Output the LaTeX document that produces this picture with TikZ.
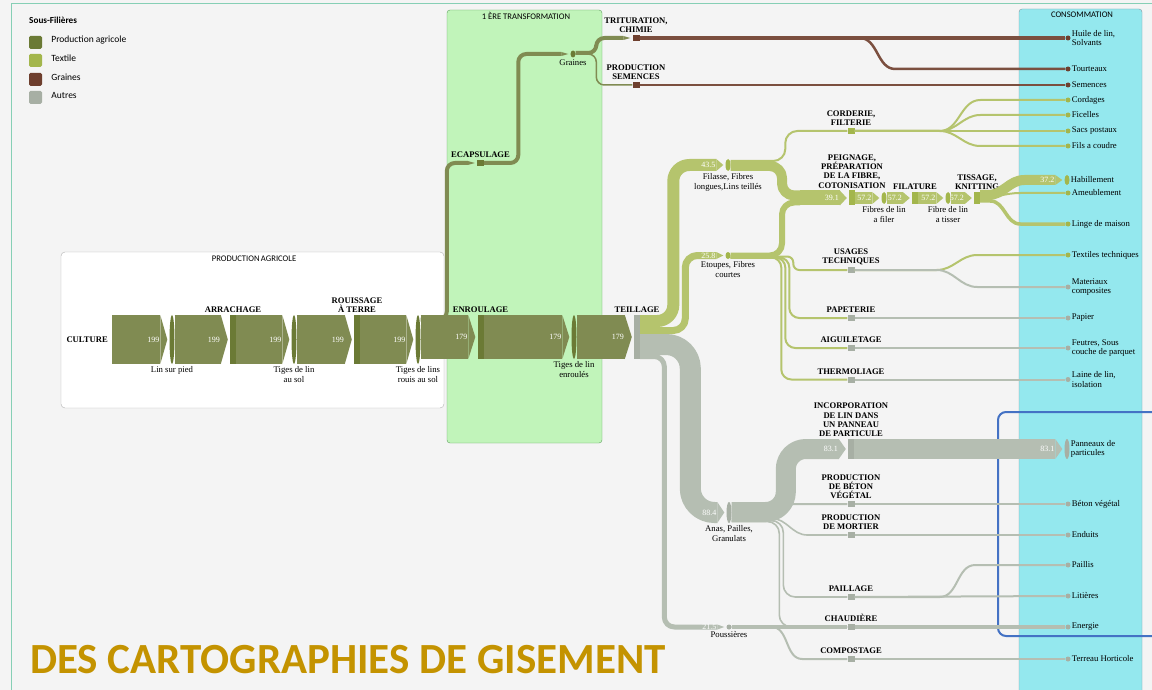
\documentclass[tikz,border=0pt]{standalone}
\usepackage{fontspec}
\setmainfont{Liberation Serif}
\newfontfamily\carlito{Carlito}
\usepackage{tikz}
\usetikzlibrary{arrows.meta,positioning,shapes.geometric}

\definecolor{bgcol}{HTML}{F4F4F4}
\definecolor{framecol}{HTML}{86CFB5}
\definecolor{pcol}{HTML}{808B52}
\definecolor{pbar}{HTML}{6B7A35}
\definecolor{tcol}{HTML}{B5C46D}
\definecolor{tbar}{HTML}{A3B64C}
\definecolor{gcol}{HTML}{7B4F3F}
\definecolor{gbar}{HTML}{6E3F2E}
\definecolor{acol}{HTML}{B5BEB2}
\definecolor{abar}{HTML}{A7AFA4}
\definecolor{vertbox}{HTML}{C1F4BA}
\definecolor{cyanbox}{HTML}{94E8EE}
\definecolor{titlecol}{HTML}{C49300}
\definecolor{bluebox}{HTML}{4472C4}

\newcommand\stagefont{\bfseries\fontsize{8.6}{9.2}\selectfont}
\newcommand\lblfont{\fontsize{8.7}{9.6}\selectfont}
\newcommand\valfont{\fontsize{8}{9}\selectfont}

\tikzset{
  flow/.style={line cap=butt, line join=round},
  chev/.style={-{Triangle[length=7pt,width=0pt 1,line width=0pt]}, shorten >=2pt},
  val/.style={font=\valfont, text=white, anchor=east, xshift=-10pt, inner sep=0pt, outer sep=0pt},
  lens/.style={ellipse, minimum width=5pt, minimum height=#1, inner sep=0pt},
  bar/.style={rectangle, minimum width=6pt, minimum height=#1, inner sep=0pt},
  sq/.style={rectangle, minimum width=7pt, minimum height=6pt, inner sep=0pt},
  cdot/.style={circle, minimum size=5pt, inner sep=0pt},
  stage/.style={font=\stagefont, align=center, inner sep=1pt},
  lbl/.style={font=\lblfont, align=center, inner sep=1pt},
  cons/.style={font=\lblfont, align=left, inner sep=0pt},
  boxtitle/.style={font=\carlito\fontsize{8.6}{9}\selectfont, inner sep=0pt},
  legsq/.style={rectangle, rounded corners=1.5pt, minimum size=13pt, inner sep=0pt},
  legtxt/.style={font=\carlito\fontsize{9.5}{10}\selectfont, anchor=west, inner sep=0pt},
}

\begin{document}
\begin{tikzpicture}[x=1pt, y=-1pt]
\useasboundingbox (0,0) rectangle (1152,690);
\fill[bgcol] (0,0) rectangle (1152,690);
\draw[framecol, line width=1.8pt] (11.5,695) -- (11.5,3.5) -- (1160,3.5);

% legende
\node[legtxt, font=\carlito\bfseries\fontsize{9.2}{10}\selectfont] (leg) at (29,20) {Sous-Filières};
\node[legsq, fill=pbar] (lg1) at (35.5,42.5) {};
\node[legsq, fill=tbar] (lg2) at (35.5,60.5) {};
\node[legsq, fill=gbar] (lg3) at (35.5,79.5) {};
\node[legsq, fill=abar] (lg4) at (35.5,97.5) {};
\node[legtxt, right=9pt of lg1, yshift=2pt] (lg1-t) {Production agricole};
\node[legtxt, right=9pt of lg2, yshift=2pt] (lg2-t) {Textile};
\node[legtxt, right=9pt of lg3, yshift=2pt] (lg3-t) {Graines};
\node[legtxt, right=9pt of lg4, yshift=2pt] (lg4-t) {Autres};

% cadres
\draw[gray!60, fill=white, rounded corners=4pt] (61,252) rectangle (444,408);
\draw[green!25!gray, fill=vertbox, rounded corners=3pt] (447,10) rectangle (602,443);
\draw[cyan!20!gray, fill=cyanbox, rounded corners=3pt] (1019,9) rectangle (1142,700);
\draw[bluebox, line width=2pt, rounded corners=8pt] (998,412) rectangle (1180,636);
\node[boxtitle] (t-prod) at (254,259) {PRODUCTION\,AGRICOLE};
\node[boxtitle] (t-trans) at (526,16) {1 ÈRE TRANSFORMATION};
\node[boxtitle] (t-conso) at (1082,15) {CONSOMMATION};

% production agricole
\coordinate (cin) at (112,339.5);
\node[stage, left=3pt of cin] (cult) {CULTURE};
\node[lens=49pt, fill=pbar] (lsp) at (172,339.5) {};
\node[lbl, below=1pt of lsp] (lsp-t) {Lin sur pied};
\node[bar=49pt, fill=pbar] (arr) at (233,339.5) {};
\node[stage, above=1pt of arr] (arr-t) {ARRACHAGE};
\node[lens=49pt, fill=pbar] (tls) at (294,339.5) {};
\node[lbl, below=1pt of tls] (tls-t) {Tiges de lin\\au sol};
\node[bar=49pt, fill=pbar] (rou) at (357,339.5) {};
\node[stage, above=1pt of rou] (rou-t) {ROUISSAGE\\À TERRE};
\node[lens=49pt, fill=pbar] (trs) at (418,339.5) {};
\node[lbl, below=1pt of trs] (trs-t) {Tiges de lins\\rouis au sol};
\node[bar=44pt, fill=pbar] (enr) at (480.5,337) {};
\node[stage, above=1pt of enr] (enr-t) {ENROULAGE};
\node[lens=44pt, fill=pbar] (tle) at (574,337) {};
\node[lbl, below=1pt of tle] (tle-t) {Tiges de lin\\enroulés};
\node[bar=44pt, fill=abar] (teil) at (637,337) {};
\node[stage, above=1pt of teil] (teil-t) {TEILLAGE};

% graines
\node[sq, fill=pbar] (ecap) at (480.5,163) {};
\node[stage, above=1pt of ecap] (ecap-t) {ECAPSULAGE};
\node[lens=7pt, fill=pbar] (gra) at (573,54) {};
\node[lbl, below=1pt of gra] (gra-t) {Graines};
\node[sq, fill=gbar] (trit) at (636,38) {};
\node[stage, above=1pt of trit] (trit-t) {TRITURATION,\\CHIMIE};
\node[sq, fill=gbar] (sem) at (636,85) {};
\node[stage, above=1pt of sem] (sem-t) {PRODUCTION\\SEMENCES};

% textile
\node[lens=12pt, fill=tbar] (fil) at (728,165) {};
\node[lbl, below=1pt of fil] (fil-t) {Filasse, Fibres\\longues,Lins teillés};
\node[lens=7pt, fill=tbar] (eto) at (728,255.5) {};
\node[lbl, below=1pt of eto] (eto-t) {Etoupes, Fibres\\courtes};
\coordinate (pj) at (800,198);
\node[sq, fill=tbar] (cord) at (851,131) {};
\node[stage, above=1pt of cord] (cord-t) {CORDERIE,\\FILTERIE};
\node[bar=15pt, fill=tbar] (peig) at (852,198) {};
\node[stage, above=1pt of peig] (peig-t) {PEIGNAGE,\\PRÉPARATION\\DE LA FIBRE,\\COTONISATION};
\node[lens=12pt, fill=tbar] (ff) at (884,198) {};
\node[lbl, below=1pt of ff] (ff-t) {Fibres de lin\\a filer};
\node[bar=12pt, fill=tbar] (fila) at (915,198) {};
\node[stage, above=1pt of fila] (fila-t) {FILATURE};
\node[lens=12pt, fill=tbar] (ft) at (948,198) {};
\node[lbl, below=1pt of ft] (ft-t) {Fibre de lin\\a tisser};
\node[bar=12pt, fill=tbar] (tiss) at (977,198) {};
\node[stage, above=1pt of tiss] (tiss-t) {TISSAGE,\\KNITTING};
\node[sq, fill=abar] (usa) at (851,270) {};
\node[stage, above=1pt of usa] (usa-t) {USAGES\\TECHNIQUES};
\node[sq, fill=abar] (pap) at (851,318) {};
\node[stage, above=1pt of pap] (pap-t) {PAPETERIE};
\node[sq, fill=abar] (aig) at (851,348) {};
\node[stage, above=1pt of aig] (aig-t) {AIGUILETAGE};
\node[sq, fill=abar] (ther) at (851,379.5) {};
\node[stage, above=1pt of ther] (ther-t) {THERMOLIAGE};

% autres
\node[lens=21pt, fill=abar] (anas) at (729,512.5) {};
\node[lbl, below=1pt of anas] (anas-t) {Anas, Pailles,\\Granulats};
\node[lens=5pt, fill=abar] (pous) at (729,627) {};
\node[lbl, below=1pt of pous] (pous-t) {Poussières};
\node[bar=20pt, fill=abar] (inc) at (851,449) {};
\node[stage, above=1pt of inc] (inc-t) {INCORPORATION\\DE LIN DANS\\UN PANNEAU\\DE PARTICULE};
\node[sq, fill=abar] (bet) at (851,504) {};
\node[stage, above=1pt of bet] (bet-t) {PRODUCTION\\DE BÉTON\\VÉGÉTAL};
\node[sq, fill=abar] (mor) at (851,535) {};
\node[stage, above=1pt of mor] (mor-t) {PRODUCTION\\DE MORTIER};
\node[sq, fill=abar] (pail) at (851,597) {};
\node[stage, above=1pt of pail] (pail-t) {PAILLAGE};
\node[sq, fill=abar] (chau) at (851,627) {};
\node[stage, above=1pt of chau] (chau-t) {CHAUDIÈRE};
\node[sq, fill=abar] (comp) at (851,659) {};
\node[stage, above=1pt of comp] (comp-t) {COMPOSTAGE};

% consommation
\foreach \n/\y/\c in {huile/38/gbar, tour/69/gbar, semen/85/gbar, cordg/100/tbar, fic/115/tbar,
  sacs/131/tbar, fils/146/tbar, ame/193/tbar, linm/224/tbar, ttech/255/tbar, mat/287/abar,
  papier/318/abar, feut/348/abar, laine/379.5/abar, beton/504/abar, endu/535/abar,
  paillis/565/abar, lit/596/abar, ener/627/abar, terr/659/abar}
  \node[cdot, fill=\c] (\n) at (1068,\y) {};
\node[lens=10pt, fill=tbar] (hab) at (1067,180) {};
\node[lens=20pt, fill=abar] (pan) at (1067,449) {};
\node[cons, right=1pt of huile] (huile-t) {Huile de lin,\\Solvants};
\node[cons, right=1pt of tour] (tour-t) {Tourteaux};
\node[cons, right=1pt of semen] (semen-t) {Semences};
\node[cons, right=1pt of cordg] (cordg-t) {Cordages};
\node[cons, right=1pt of fic] (fic-t) {Ficelles};
\node[cons, right=1pt of sacs] (sacs-t) {Sacs postaux};
\node[cons, right=1pt of fils] (fils-t) {Fils a coudre};
\node[cons, right=1pt of hab] (hab-t) {Habillement};
\node[cons, right=1pt of ame] (ame-t) {Ameublement};
\node[cons, right=1pt of linm] (linm-t) {Linge de maison};
\node[cons, right=1pt of ttech] (ttech-t) {Textiles techniques};
\node[cons, right=1pt of mat] (mat-t) {Materiaux\\composites};
\node[cons, right=1pt of papier] (papier-t) {Papier};
\node[cons, right=1pt of feut] (feut-t) {Feutres, Sous\\couche de parquet};
\node[cons, right=1pt of laine] (laine-t) {Laine de lin,\\isolation};
\node[cons, right=1pt of pan] (pan-t) {Panneaux de\\particules};
\node[cons, right=1pt of beton] (beton-t) {Béton végétal};
\node[cons, right=1pt of endu] (endu-t) {Enduits};
\node[cons, right=1pt of paillis] (paillis-t) {Paillis};
\node[cons, right=1pt of lit] (lit-t) {Litières};
\node[cons, right=1pt of ener] (ener-t) {Energie};
\node[cons, right=1pt of terr] (terr-t) {Terreau Horticole};

% flux production
\foreach \a/\b in {cin/lsp, lsp/arr, arr/tls, tls/rou, rou/trs}
  \draw[flow, pcol, line width=49pt, chev] (\a.east) -- node[val, pos=1] (v-\b) {199} (\b.west);
\draw[flow, pcol, line width=44pt, chev] ([yshift=2.5pt]trs.east) -- node[val, pos=1] (v-enr) {179} (enr.west);
\draw[flow, pcol, line width=44pt, chev] (enr.east) -- node[val, pos=1] (v-tle) {179} (tle.west);
\draw[flow, pcol, line width=44pt, chev] (tle.east) -- node[val, pos=1] (v-teil) {179} (teil.west);

% flux graines
\draw[flow, pcol, line width=4pt, rounded corners=8pt, chev] ([yshift=20pt]trs.east) -| ([xshift=-30pt]ecap.west) -- (ecap.west);
\draw[flow, pcol, line width=4pt, rounded corners=8pt, chev] (ecap.east) -| ([xshift=-52pt]gra.west) -- (gra.west);
\draw[flow, pcol, line width=4pt, rounded corners=8pt, chev] ([yshift=1pt]gra.east) -| ([xshift=-36pt]trit.west) -- (trit.west);
\draw[flow, pcol, line width=1.5pt, rounded corners=8pt] (gra.east) -| ([xshift=-36pt]sem.west) -- (sem.west);
\draw[flow, gcol, line width=4pt] (trit.east) -- (huile.west);
\draw[flow, gcol, line width=2.5pt] (trit.east) -- +(220,0) to[out=0,in=180] ([xshift=-170pt]tour.west) -- (tour.west);
\draw[flow, gcol, line width=2pt] (sem.east) -- (semen.west);

% flux textile
\draw[flow, tcol, line width=12pt, rounded corners=16pt, chev] ([yshift=16pt]teil.east) -| ([xshift=-52pt]fil.west) -- node[val, pos=1] (v-fil) {43.5} (fil.west);
\draw[flow, tcol, line width=7pt, rounded corners=12pt, chev] ([yshift=6.5pt]teil.east) -| ([xshift=-40pt]eto.west) -- node[val, pos=1] (v-eto) {25.8} (eto.west);
\draw[flow, tcol, line width=2pt, rounded corners=12pt] ([yshift=4pt]fil.east) -| ([xshift=-62pt]cord.west) -- (cord.west);
\draw[flow, tcol, line width=10pt, rounded corners=12pt] ([yshift=-1pt]fil.east) -| ([xshift=-18pt,yshift=2.5pt]pj) -- ([yshift=2.5pt]pj);
\draw[flow, tcol, line width=6pt, rounded corners=12pt] (eto.east) -| ([xshift=-18pt,yshift=-4.5pt]pj) -- ([yshift=-4.5pt]pj);
\draw[flow, tcol, line width=15pt, chev] (pj) -- node[val, pos=1] (v-peig) {39.1} (peig.west);
\foreach \a/\b in {peig/ff, ff/fila, fila/ft, ft/tiss}
  \draw[flow, tcol, line width=12pt, chev] (\a.east) -- node[val, pos=1] (v-\b) {57.2} (\b.west);
\draw[flow, tcol, line width=10pt, chev] ([yshift=3pt]tiss.east) -- +(8,0) to[out=0,in=180] ([xshift=-40pt]hab.west) -- node[val, pos=1] (v-hab) {37.2} (hab.west);
\draw[flow, tcol, line width=2pt] (tiss.east) to[out=0,in=180] ([xshift=-45pt]ame.west) -- (ame.west);
\draw[flow, tcol, line width=3.5pt] ([yshift=-3pt]tiss.east) -- +(10,0) to[out=0,in=180] ([xshift=-45pt]linm.west) -- (linm.west);
\foreach \n in {cordg, fic, sacs, fils}
  \draw[flow, tcol, line width=2pt] (cord.east) -- +(85,0) to[out=0,in=180] ([xshift=-85pt]\n.west) -- (\n.west);
\draw[flow, tcol, line width=2pt, rounded corners=6pt] ([yshift=-1pt]eto.east) -| ([xshift=-54pt]usa.west) -- (usa.west);
\draw[flow, tcol, line width=2pt, rounded corners=10pt] ([yshift=-2pt]eto.east) -| ([xshift=-58pt]pap.west) -- (pap.west);
\draw[flow, tcol, line width=2pt, rounded corners=10pt] ([yshift=-2pt]eto.east) -| ([xshift=-62pt]aig.west) -- (aig.west);
\draw[flow, tcol, line width=2pt, rounded corners=10pt] ([yshift=-2pt]eto.east) -| ([xshift=-66pt]ther.west) -- (ther.west);
\draw[flow, tcol, line width=2pt] (usa.east) -- +(82,0) to[out=0,in=180] ([xshift=-88pt]ttech.west) -- (ttech.west);
\draw[flow, acol, line width=2pt] (usa.east) -- +(82,0) to[out=0,in=180] ([xshift=-88pt]mat.west) -- (mat.west);
\draw[flow, acol, line width=2pt] (pap.east) -- (papier.west);
\draw[flow, acol, line width=2pt] (aig.east) -- (feut.west);
\draw[flow, acol, line width=2pt] (ther.east) -- (laine.west);

% flux autres
\draw[flow, acol, line width=21pt, rounded corners=24pt, chev] ([yshift=-7.5pt]teil.east) -| ([xshift=-36pt]anas.west) -- node[val, pos=1] (v-anas) {88.4} (anas.west);
\draw[flow, acol, line width=5pt, rounded corners=10pt, chev] ([yshift=-19.5pt]teil.east) -| ([xshift=-62pt]pous.west) -- node[val, pos=1] (v-pous) {21.5} (pous.west);
\draw[flow, acol, line width=20pt, rounded corners=20pt, chev] ([yshift=0.5pt]anas.east) -| ([xshift=-62pt]inc.west) -- node[val, pos=1] (v-inc) {83.1} (inc.west);
\draw[flow, acol, line width=20pt, chev] (inc.east) -- node[val, pos=1] (v-pan) {83.1} (pan.west);
\draw[flow, acol, line width=2pt] ([yshift=6pt]anas.east) to[out=0,in=180] ([xshift=-40pt]bet.west) -- (bet.west);
\draw[flow, acol, line width=1.6pt] ([yshift=-6pt]anas.east) -- +(40,0) to[out=0,in=180] ([xshift=-40pt]mor.west) -- (mor.west);
\draw[flow, acol, line width=1.6pt, rounded corners=12pt] ([yshift=-8pt]anas.east) -| ([xshift=-64pt]pail.west) -- (pail.west);
\draw[flow, acol, line width=1.6pt, rounded corners=12pt] ([yshift=-9pt]anas.east) -| ([xshift=-68pt]chau.west) -- (chau.west);
\draw[flow, acol, line width=4pt] (pous.east) -- (chau.west);
\draw[flow, acol, line width=2pt] (pous.east) -- +(40,0) to[out=0,in=180] ([xshift=-45pt]comp.west) -- (comp.west);
\draw[flow, acol, line width=2pt] (bet.east) -- (beton.west);
\draw[flow, acol, line width=2pt] (mor.east) -- (endu.west);
\draw[flow, acol, line width=2pt] (pail.east) -- (lit.west);
\draw[flow, acol, line width=2pt] (pail.east) -- +(85,0) to[out=0,in=180] ([xshift=-90pt]paillis.west) -- (paillis.west);
\draw[flow, acol, line width=4pt] (chau.east) -- (ener.west);
\draw[flow, acol, line width=2pt] (comp.east) -- (terr.west);

\node[font=\carlito\bfseries\fontsize{43}{47}\selectfont, text=titlecol, anchor=base west, inner sep=0pt] (titre) at (30,673) {DES CARTOGRAPHIES DE GISEMENT};
\end{tikzpicture}
\end{document}
